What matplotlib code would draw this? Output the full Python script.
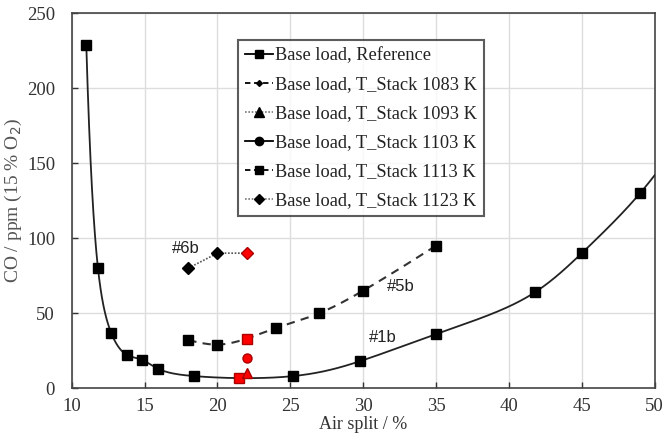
import numpy as np
import matplotlib
matplotlib.use('Agg')
import matplotlib.pyplot as plt
from matplotlib.lines import Line2D

# reference curve (#1b)
ref_x = [11.0, 11.8, 12.7, 13.8, 14.8, 15.9, 18.4, 25.2, 29.8, 35.0, 41.8, 45.0, 49.0]
ref_y = [229, 80, 37, 22, 19, 13, 8, 8, 18, 36, 64, 90, 130]
ref_end = (50.0, 142)  # where the drawn trend line stops

# T_Stack 1113 K series (#5b)
s5_x = [18, 20, 24, 27, 30, 35]
s5_y = [32, 29, 40, 50, 65, 95]
# T_Stack 1123 K series (#6b)
s6_x = [18, 20]
s6_y = [80, 90]

# red highlighted points at the base point
red_sq_x, red_sq_y = [21.5, 22.0], [7, 33]
red_circ_x, red_circ_y = [22.0], [20]
red_tri_x, red_tri_y = [22.0], [10]
red_dia_x, red_dia_y = [22.0], [90]

labels = ['Base load, Reference',
          'Base load, T_Stack 1083 K',
          'Base load, T_Stack 1093 K',
          'Base load, T_Stack 1103 K',
          'Base load, T_Stack 1113 K',
          'Base load, T_Stack 1123 K']


def spline(x, y, n=400):
    # natural cubic spline, only used to draw the smoothed line
    x = np.asarray(x, float)
    y = np.asarray(y, float)
    k = len(x)
    h = np.diff(x)
    A = np.zeros((k, k))
    r = np.zeros(k)
    A[0, 0] = A[-1, -1] = 1
    for i in range(1, k - 1):
        A[i, i - 1] = h[i - 1]
        A[i, i] = 2 * (h[i - 1] + h[i])
        A[i, i + 1] = h[i]
        r[i] = 6 * ((y[i + 1] - y[i]) / h[i] - (y[i] - y[i - 1]) / h[i - 1])
    m = np.linalg.solve(A, r)
    xs = np.linspace(x[0], x[-1], n)
    j = np.clip(np.searchsorted(x, xs) - 1, 0, k - 2)
    a = x[j + 1] - xs
    b = xs - x[j]
    hj = h[j]
    ys = (m[j] * a ** 3 + m[j + 1] * b ** 3) / (6 * hj) \
        + (y[j] / hj - m[j] * hj / 6) * a + (y[j + 1] / hj - m[j + 1] * hj / 6) * b
    return xs, ys


plt.rcParams['font.family'] = ['Liberation Serif', 'DejaVu Serif']
fig = plt.figure(figsize=(6.64, 4.42), dpi=100)
ax = fig.add_axes([0.108, 0.122, 0.878, 0.848])

# reference, smoothed on log scale so the steep start does not overshoot
cx, cly = spline(ref_x + [ref_end[0]], np.log(ref_y + [ref_end[1]]))
ax.plot(cx, np.exp(cly), color='#222222', lw=1.3, zorder=3)
ax.plot(ref_x, ref_y, 's', color='black', ms=7, zorder=4)

# 5b dashed
s5_all_x = s5_x[:2] + [red_sq_x[1]] + s5_x[2:]
s5_all_y = s5_y[:2] + [red_sq_y[1]] + s5_y[2:]
dx, dy = spline(s5_all_x, s5_all_y)
ax.plot(dx, dy, color='#333333', lw=1.5, ls=(0, (4, 3)), zorder=3)
ax.plot(s5_x, s5_y, 's', color='black', ms=7, zorder=4)

# 6b dotted
ax.plot(s6_x + red_dia_x, s6_y + red_dia_y, color='#555555', lw=1.2, ls=(0, (1, 1)), zorder=3)
ax.plot(s6_x, s6_y, 'D', color='black', ms=6, zorder=4)

# red points
ax.plot(red_sq_x, red_sq_y, 's', color='red', mec='#aa0000', ms=7, zorder=5)
ax.plot(red_circ_x, red_circ_y, 'o', color='red', mec='#aa0000', ms=6.5, zorder=5)
ax.plot(red_tri_x, red_tri_y, '^', color='red', mec='#aa0000', ms=7, zorder=5)
ax.plot(red_dia_x, red_dia_y, 'D', color='red', mec='#aa0000', ms=6, zorder=5)

# annotations
lab_font = dict(family='Liberation Sans', fontsize=12, color='#222222', va='center')
ax.text(16.9, 93, '#6b', **lab_font)
ax.text(31.6, 68, '#5b', **lab_font)
ax.text(30.4, 34, '#1b', **lab_font)

ax.set_xlim(10, 50)
ax.set_ylim(0, 250)
ax.set_xticks(np.arange(10, 51, 5))
ax.set_yticks(np.arange(0, 251, 50))
ax.grid(True, color='#dddddd', lw=1)
ax.set_axisbelow(True)
ax.tick_params(direction='in', length=4, labelsize=13.5, colors='#333333', width=1)
ax.tick_params(axis='y', pad=12)
ax.tick_params(axis='x', pad=7)
for s in ax.spines.values():
    s.set_color('#444444')
    s.set_linewidth(1.2)
ax.set_xlabel('Air split / %', fontsize=13, color='#333333', labelpad=1)
ax.set_ylabel('CO / ppm (15 % O$_2$)', fontsize=14, color='#555555')
ax.yaxis.set_label_coords(-0.082, 0.5)

handles = [
    Line2D([], [], color='black', lw=1.3, marker='s', ms=6),
    Line2D([], [], color='black', lw=1.3, ls=(0, (3, 2)), marker='D', ms=3),
    Line2D([], [], color='#777777', lw=1.2, ls=(0, (1, 1)), marker='^', ms=7, mfc='black', mec='black'),
    Line2D([], [], color='black', lw=1.3, ls='-', marker='o', ms=6),
    Line2D([], [], color='black', lw=1.3, ls=(0, (3, 2)), marker='s', ms=6),
    Line2D([], [], color='#777777', lw=1.2, ls=(0, (1, 1)), marker='D', ms=5, mfc='black', mec='black'),
]
leg = ax.legend(handles, labels, loc='upper left', bbox_to_anchor=(0.285, 0.928),
                fontsize=13.2, frameon=True, fancybox=False, handlelength=1.5,
                handletextpad=0.1, borderpad=0.4, labelspacing=0.65, borderaxespad=0)
leg.get_frame().set_edgecolor('#333333')
leg.get_frame().set_linewidth(1.5)
for t in leg.get_texts():
    t.set_color('#222222')

fig.savefig('out.png', dpi=100)
